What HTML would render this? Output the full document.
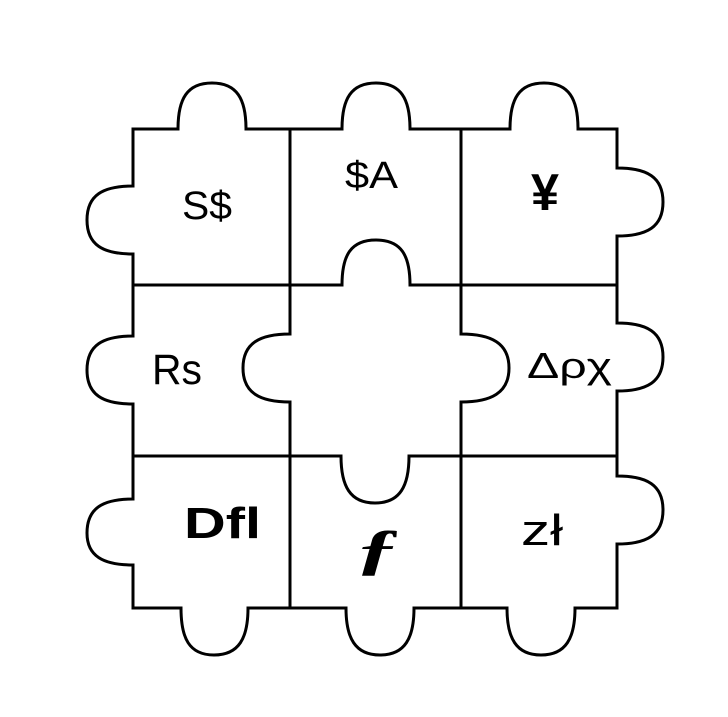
<!DOCTYPE html>
<html><head><meta charset="utf-8"><style>
html,body{margin:0;padding:0;background:#fff;}
svg{display:block}
text{font-family:"Liberation Sans",sans-serif;fill:#000}
</style></head><body>
<svg width="728" height="717" viewBox="0 0 728 717">
<g fill="none" stroke="#000" stroke-width="3" stroke-linejoin="miter">
<path d="M133,129 L178,129 C178,99 187,83 212,83 C237,83 246,99 246,129 L342,129 C342,99 351,83 376,83 C401,83 410,99 410,129 L510,129 C510,99 519,83 544,83 C569,83 578,99 578,129 L617,129 L617,168 C647,168 663,177 663,202 C663,227 647,236 617,236 L617,323 C647,323 663,332 663,357 C663,382 647,391 617,391 L617,476 C647,476 663,485 663,510 C663,535 647,544 617,544 L617,608 L575,608 C575,638 566,655 541,655 C516,655 507,638 507,608 L414,608 C414,638 405,655 380,655 C355,655 346,638 346,608 L248,608 C248,638 239,655 214,655 C189,655 181,638 181,608 L133,608 L133,565 C103,565 87,556 87,533 C87,508 103,499 133,499 L133,404 C103,404 87,395 87,370 C87,345 103,336 133,336 L133,254 C103,254 87,245 87,220 C87,195 103,186 133,186 Z"/>
<path d="M290,285 L342,285 C342,255 351,240 376,240 C401,240 410,255 410,285 L461,285 L461,334 C491,334 509,343 509,368 C509,393 491,402 461,402 L461,456 L409,456 C409,486 400,503 375,503 C350,503 341,486 341,456 L290,456 L290,402 C260,402 243,393 243,368 C243,343 260,334 290,334 Z"/>
<path d="M290,129 V285 M290,456 V608 M461,129 V285 M461,456 V608 M133,285 H290 M461,285 H617 M133,456 H290 M461,456 H617"/>
</g>
<text x="182" y="219" font-size="40" textLength="50" lengthAdjust="spacingAndGlyphs">S$</text>
<text x="345" y="188" font-size="38" textLength="53" lengthAdjust="spacingAndGlyphs">$A</text>
<text x="531" y="210" font-size="52" font-weight="bold" textLength="28" lengthAdjust="spacingAndGlyphs">¥</text>
<text x="152" y="384" font-size="43" textLength="50" lengthAdjust="spacingAndGlyphs">Rs</text>
<text x="527" y="378" font-size="36" textLength="85" lengthAdjust="spacingAndGlyphs">Δρχ</text>
<text x="184" y="538" font-size="44" font-weight="bold" textLength="77" lengthAdjust="spacingAndGlyphs">Dfl</text>
<text x="355" y="568" font-size="56" font-weight="bold" font-style="italic" textLength="45" lengthAdjust="spacingAndGlyphs" style="font-family:'Liberation Serif',serif">ƒ</text>
<text x="521" y="545" font-size="44" textLength="42" lengthAdjust="spacingAndGlyphs">zł</text>
</svg>
</body></html>
